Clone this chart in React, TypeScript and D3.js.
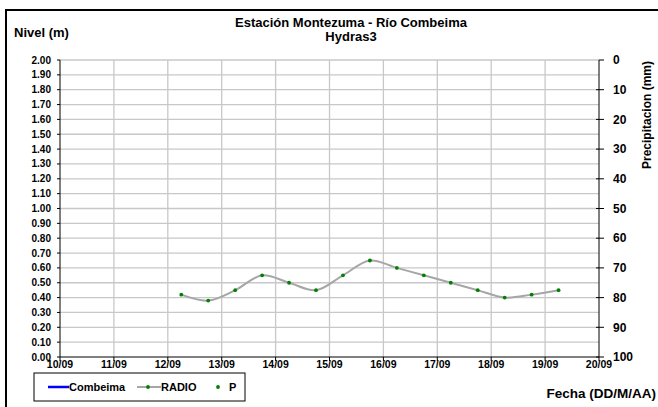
import React from "react";
import * as d3 from "d3";

const dayTicks = [10, 11, 12, 13, 14, 15, 16, 17, 18, 19, 20];
const dayLabels = ["10/09", "11/09", "12/09", "13/09", "14/09", "15/09", "16/09", "17/09", "18/09", "19/09", "20/09"];
const radioDays = [12.25, 12.75, 13.25, 13.75, 14.25, 14.75, 15.25, 15.75, 16.25, 16.75, 17.25, 17.75, 18.25, 18.75, 19.25];
const radioLevels = [0.42, 0.38, 0.45, 0.55, 0.5, 0.45, 0.55, 0.65, 0.6, 0.55, 0.5, 0.45, 0.4, 0.42, 0.45];
const levelTicks = d3.range(0, 21).map((i) => i / 10);
const precipTicks = [0, 10, 20, 30, 40, 50, 60, 70, 80, 90, 100];

const FONT = "'Liberation Sans', Arial, sans-serif";

export default function App() {
  const W = 658, H = 407;
  const left = 60, right = 599, top = 60, bottom = 357;
  const x = d3.scaleLinear().domain([10, 20]).range([left, right]);
  const y = d3.scaleLinear().domain([0, 2]).range([bottom, top]);
  const yR = d3.scaleLinear().domain([0, 100]).range([top, bottom]);
  const pts = radioDays.map((d, i) => [d, radioLevels[i]] as [number, number]);
  const line = d3
    .line<[number, number]>()
    .x((d) => x(d[0]))
    .y((d) => y(d[1]))
    .curve(d3.curveCatmullRom.alpha(0.5));

  return (
    <svg width={W} height={H} style={{ position: "absolute", left: 0, top: 0 }} fontFamily={FONT}>
      <rect x={0} y={0} width={W} height={H} fill="#fff" />
      <rect x={6} y={10} width={W + 10} height={H + 10} fill="none" stroke="#000" strokeWidth={2} />
      {/* grid */}
      {levelTicks.slice(1).map((t) => (
        <line key={"h" + t} x1={left} x2={right} y1={y(t)} y2={y(t)} stroke="#c8c8c8" strokeWidth={1.3} />
      ))}
      {dayTicks.slice(1, -1).map((t) => (
        <line key={"v" + t} x1={x(t)} x2={x(t)} y1={top} y2={bottom} stroke="#c8c8c8" strokeWidth={1.3} />
      ))}
      {/* axes */}
      <line x1={left} x2={left} y1={top} y2={bottom} stroke="#000" strokeWidth={1} />
      <line x1={left} x2={right} y1={bottom} y2={bottom} stroke="#000" strokeWidth={1} />
      <line x1={right} x2={right} y1={top} y2={bottom} stroke="#000" strokeWidth={1} />
      {levelTicks.map((t) => (
        <g key={"l" + t}>
          <line x1={left - 3} x2={left} y1={y(t)} y2={y(t)} stroke="#000" />
          <text x={left - 9} y={y(t)} dy="0.35em" textAnchor="end" fontSize={10} fontWeight="bold" fill="#000">
            {t.toFixed(2)}
          </text>
        </g>
      ))}
      {dayTicks.map((t, i) => (
        <g key={"d" + t}>
          <line x1={x(t)} x2={x(t)} y1={bottom} y2={bottom + 4} stroke="#000" />
          <text x={x(t)} y={bottom + 11} textAnchor="middle" fontSize={10.5} fontWeight="bold" fill="#000">
            {dayLabels[i]}
          </text>
        </g>
      ))}
      {precipTicks.map((t) => (
        <g key={"p" + t}>
          <line x1={t === 0 ? right : right - 3} x2={right + 5} y1={yR(t)} y2={yR(t)} stroke="#000" />
          <text x={right + 14} y={yR(t)} dy="0.35em" textAnchor="start" fontSize={12} fontWeight="bold" fill="#000">
            {t}
          </text>
        </g>
      ))}
      {/* series */}
      <path d={line(pts) ?? ""} fill="none" stroke="#a6a6a6" strokeWidth={2} />
      {pts.map((p, i) => (
        <circle key={"m" + i} cx={x(p[0])} cy={y(p[1])} r={1.9} fill="#008000" />
      ))}
      {/* titles */}
      <text x={351} y={27} textAnchor="middle" fontSize={13} fontWeight="bold" fill="#000">
        Estación Montezuma - Río Combeima
      </text>
      <text x={351} y={40.5} textAnchor="middle" fontSize={13} fontWeight="bold" fill="#000">
        Hydras3
      </text>
      <text x={14} y={37} fontSize={13} fontWeight="bold" fill="#000">
        Nivel (m)
      </text>
      <text
        transform={`translate(651,115) rotate(-90)`}
        textAnchor="middle"
        fontSize={12}
        fontWeight="bold"
        fill="#000"
      >
        Precipitacion (mm)
      </text>
      <text x={656} y={398} textAnchor="end" fontSize={13.5} fontWeight="bold" fill="#000">
        Fecha (DD/M/AA)
      </text>
      {/* legend */}
      <rect x={34} y={373} width={211} height={28} fill="#fff" stroke="#000" strokeWidth={1} />
      <line x1={48} x2={69} y1={387} y2={387} stroke="#0000ff" strokeWidth={2.5} />
      <text x={69} y={387} dy="0.35em" fontSize={11} fontWeight="bold" fill="#000">
        Combeima
      </text>
      <line x1={137} x2={161} y1={387} y2={387} stroke="#a6a6a6" strokeWidth={2} />
      <circle cx={148} cy={387} r={1.9} fill="#008000" />
      <text x={161} y={387} dy="0.35em" fontSize={11} fontWeight="bold" fill="#000">
        RADIO
      </text>
      <circle cx={218} cy={387} r={1.9} fill="#008000" />
      <text x={229} y={387} dy="0.35em" fontSize={11} fontWeight="bold" fill="#000">
        P
      </text>
    </svg>
  );
}
